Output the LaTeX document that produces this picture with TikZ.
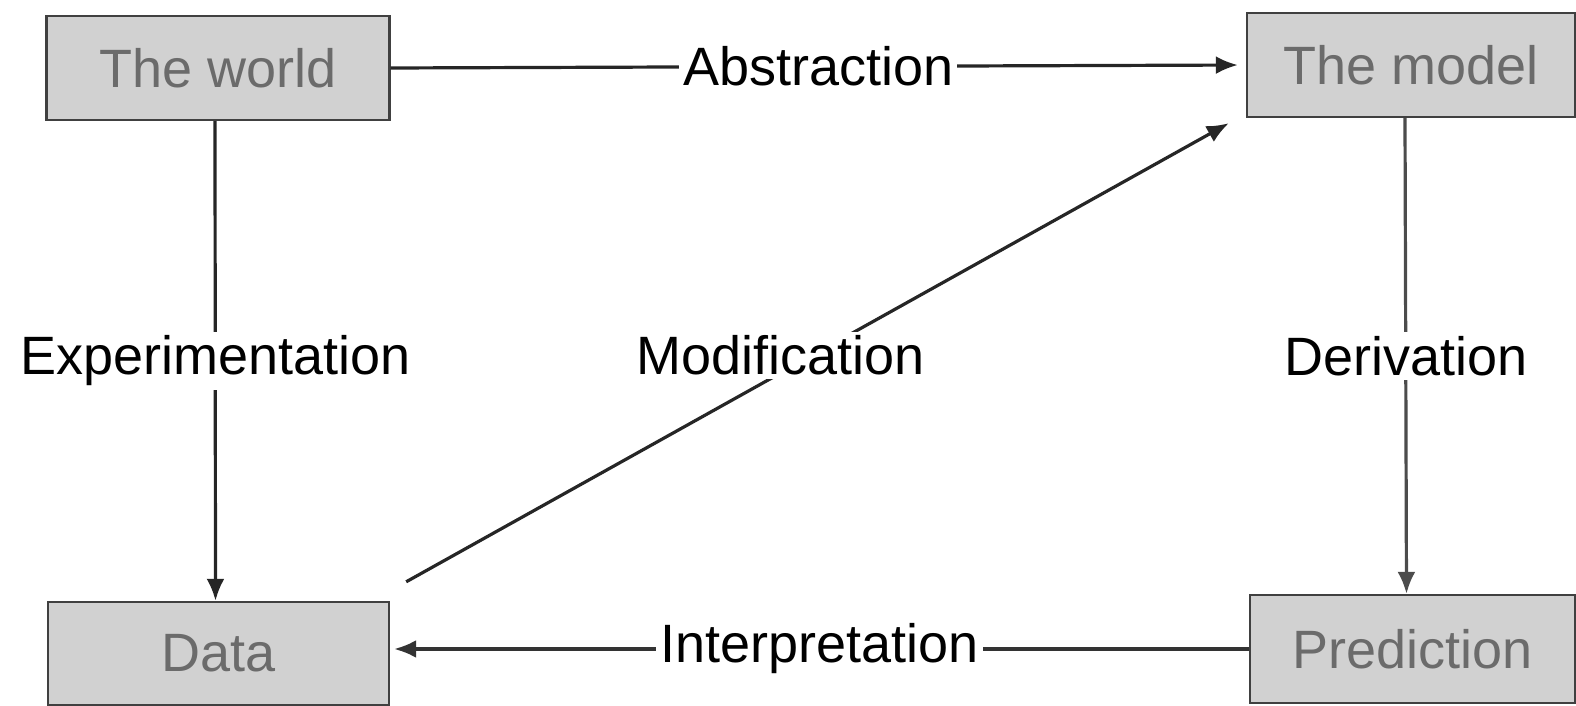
\documentclass[tikz,border=0pt]{standalone}
\usepackage{fontspec}
\setmainfont{Liberation Sans}
\usetikzlibrary{arrows.meta,calc}
\begin{document}
\begin{tikzpicture}[x=0.5pt,y=-0.5pt,
  box/.style={draw=black!75, line width=1.2pt, fill=black!18, text=black!58,
    font=\fontsize{27}{30}\selectfont, inner sep=0pt},
  conn/.style={line width=1.6pt, draw=black!85, -{Latex[length=11pt,width=9pt]}},
  lbl/.style={fill=white, inner sep=2pt, text=black, font=\fontsize{27}{30}\selectfont}]
\useasboundingbox (0,0) rectangle (1576,706);
\node[box, minimum width=171.5pt, minimum height=52pt] (world) at (218,68) {The world};
\node[box, minimum width=164pt, minimum height=52pt] (model) at (1411,65) {The model};
\node[box, minimum width=170.5pt, minimum height=51.5pt] (data) at (218.5,653.5) {Data};
\node[box, minimum width=162.5pt, minimum height=54pt] (pred) at (1412.5,649) {Prediction};
\coordinate (ms) at ($(data.north east)+(16,-19)$);
\coordinate (me) at ($(model.south west)+(-17,5)$);
\draw[conn, shorten >=4pt] (world.east) -- node[lbl] (abs) {Abstraction} (model.west);
\draw[conn] ([xshift=-1.5pt]world.south) -- node[lbl] (exp) {Experimentation} ([xshift=-1.5pt]data.north);
\draw[conn, draw=black!70] ([xshift=-3pt]model.south) -- node[lbl] (der) {Derivation} ([xshift=-3pt]pred.north);
\draw[conn, draw=black!80, shorten >=2pt] (pred.west) -- node[lbl] (int) {Interpretation} (pred.west -| data.east);
\draw[conn] (ms) -- node[lbl, pos=0.45, yshift=10pt, xshift=2pt] (mod) {Modification} (me);
\end{tikzpicture}
\end{document}
